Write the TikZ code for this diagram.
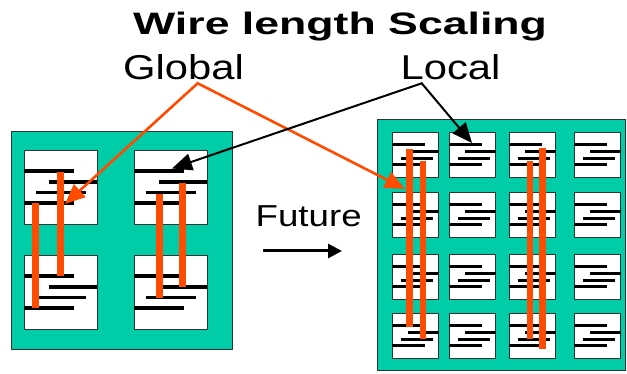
\documentclass[tikz,border=0pt]{standalone}
\usepackage{fontspec}
\setmainfont{Liberation Sans}
\usetikzlibrary{arrows.meta}
\definecolor{chipgreen}{RGB}{0,204,168}
\definecolor{wireorange}{RGB}{255,76,0}
\definecolor{edgegray}{RGB}{50,50,50}
\begin{document}
\begin{tikzpicture}[x=1pt,y=-1pt,
  chip/.style={draw=edgegray,line width=1.3pt,fill=chipgreen,anchor=north west,inner sep=0},
  lbox/.style={draw=edgegray,line width=1pt,fill=white,anchor=north west,inner sep=0,minimum width=73pt,minimum height=74pt},
  sbox/.style={draw=edgegray,line width=1pt,fill=white,anchor=north west,inner sep=0,minimum width=46pt,minimum height=45pt},
  lline/.style={line width=3.5pt,black},
  sline/.style={line width=3pt,black},
  wire/.style={wireorange,line width=7pt},
  thinwire/.style={wireorange,line width=5.5pt},
  label/.style={anchor=base west,inner sep=0},
  oarrow/.style={wireorange,line width=2.6pt,line join=miter,
     arrows={Triangle[length=20pt,width=17pt]-Triangle[length=20pt,width=17pt]}},
  karrow/.style={black,line width=2pt,line join=miter,
     arrows={Triangle[length=20pt,width=17pt]-Triangle[length=20pt,width=17pt]}},
  farrow/.style={black,line width=3pt,-{Triangle[length=14pt,width=14pt]}}
]
\useasboundingbox (0,0) rectangle (627,374);

% title and labels
\node[label,font=\bfseries\fontsize{31}{36}\selectfont] (title) at (133,35) {\scalebox{1.44}[1]{Wire length Scaling}};
\node[label,font=\fontsize{34.5}{40}\selectfont] (global) at (123,79.5) {\scalebox{1.21}[1]{Global}};
\node[label,font=\fontsize{34.5}{40}\selectfont] (local) at (400.5,79.5) {\scalebox{1.21}[1]{Local}};
\node[label,font=\fontsize{30.3}{36}\selectfont] (future) at (255.5,226.7) {\scalebox{1.21}[1]{Future}};

% chips
\node[chip,minimum width=221pt,minimum height=218pt] (leftchip) at (11,131) {};
\node[chip,minimum width=248pt,minimum height=251pt] (rightchip) at (377,119) {};

% left blocks
\foreach \n/\x/\y in {L11/24/150,L12/134/150,L21/24/255,L22/134/255}{
  \node[lbox] (\n) at (\x,\y) {};
  \draw[lline] ([shift={(0,21)}]\n.north west) -- +(50,0);
  \draw[lline] ([shift={(24.7,32)}]\n.north west) -- +(48.3,0);
  \draw[lline] ([shift={(12,42.5)}]\n.north west) -- +(50,0);
  \draw[lline] ([shift={(0,53)}]\n.north west) -- +(50,0);
}

% right blocks
\foreach \c/\x in {1/392,2/449,3/509,4/574}{
  \foreach \r/\y in {1/132,2/192,3/254,4/313}{
    \node[sbox] (R\r\c) at (\x,\y) {};
    \draw[sline] ([shift={(0,12.5)}]R\r\c.north west) -- +(33,0);
    \draw[sline] ([shift={(16,19.5)}]R\r\c.north west) -- +(31,0);
    \draw[sline] ([shift={(8.5,26.5)}]R\r\c.north west) -- +(32,0);
    \draw[sline] ([shift={(0,32.8)}]R\r\c.north west) -- +(33,0);
  }
}

% global wires, left chip
\draw[wire] (60.7,171.7) -- (60.7,275.7);
\draw[wire] (35.7,203.3) -- (35.7,307.7);
\draw[wire] (159,194) -- (159,297.7);
\draw[wire] (182.7,182.7) -- (182.7,286.7);

% global wires, right chip
\draw[wire] (409.3,149) -- (409.3,327.3);
\draw[thinwire] (423.2,160.7) -- (423.2,338.7);
\draw[thinwire] (530,160.7) -- (530,338.7);
\draw[wire] (542.5,148.3) -- (542.5,349.3);

% pointers
\coordinate (gapex) at (197.7,83.3);
\coordinate (gtipL) at (65,204);
\coordinate (gtipR) at (405,189);
\coordinate (lapex) at (421.7,83.3);
\coordinate (ltipL) at (172,168.5);
\coordinate (ltipR) at (472,143);
\draw[oarrow] (gtipL) -- (gapex) -- (gtipR);
\draw[karrow] (ltipL) -- (lapex) -- (ltipR);

% future arrow
\coordinate (fs) at (263,251);
\coordinate (fe) at (342,251);
\draw[farrow] (fs) -- (fe);
\end{tikzpicture}
\end{document}
